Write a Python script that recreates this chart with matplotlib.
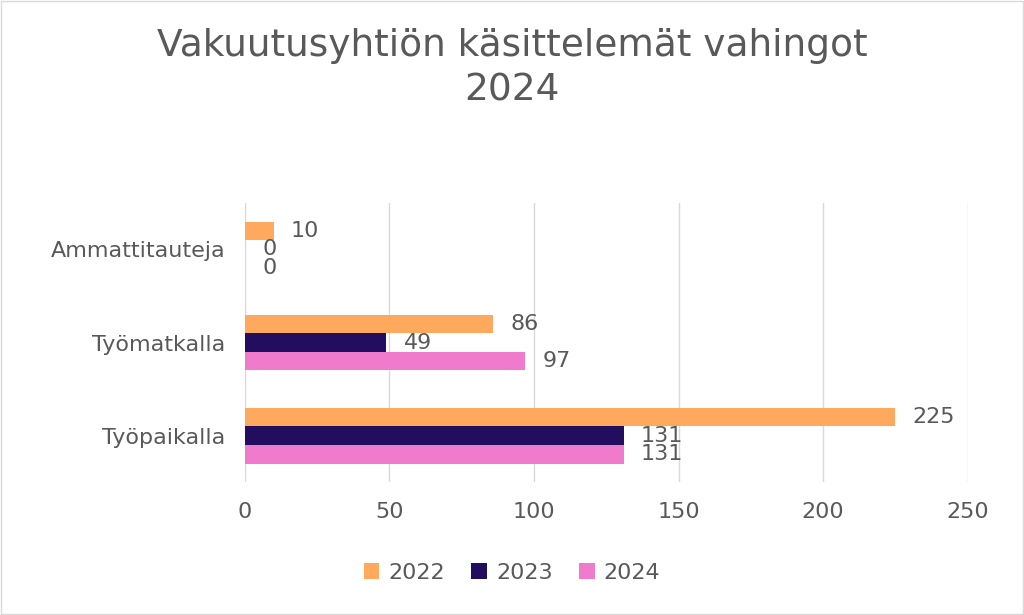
import matplotlib.pyplot as plt
import numpy as np

categories = ["Ammattitauteja", "Työmatkalla", "Työpaikalla"]
years = ["2022", "2023", "2024"]
values_2022 = [10, 86, 225]
values_2023 = [0, 49, 131]
values_2024 = [0, 97, 131]
series = [values_2022, values_2023, values_2024]
colors = ["#FFA95F", "#220D5E", "#F07ACB"]
text_color = "#595959"

fig = plt.figure(figsize=(10.24, 6.15), dpi=100)
fig.patches.append(plt.Rectangle((0.001, 0.001), 0.998, 0.998, transform=fig.transFigure,
                                 fill=False, edgecolor="#D9D9D9", linewidth=1))
ax = fig.add_axes([0.239, 0.216, 0.706, 0.454])

y = np.arange(len(categories))
h = 0.2
for i, (vals, col, yr) in enumerate(zip(series, colors, years)):
    pos = y + (i - 1) * h
    ax.barh(pos, vals, height=h, color=col, label=yr, zorder=3)
    for p, v in zip(pos, vals):
        ax.text(v + 6, p, str(v), va="center", ha="left", fontsize=16, color=text_color)

ax.set_xlim(0, 250)
ax.set_ylim(2.5, -0.5)
ax.set_xticks(range(0, 251, 50))
ax.set_yticks(y)
ax.set_yticklabels(categories)
ax.tick_params(length=0, labelsize=16, labelcolor=text_color, pad=14)
ax.grid(axis="x", color="#D9D9D9", linewidth=1, zorder=0)
for s in ax.spines.values():
    s.set_visible(False)

fig.suptitle("Vakuutusyhtiön käsittelemät vahingot\n2024", y=0.955, fontsize=27,
             color=text_color, linespacing=1.3)
fig.legend(loc="lower center", ncol=3, bbox_to_anchor=(0.5, 0.02), frameon=False,
           fontsize=16, labelcolor=text_color, handlelength=0.7, handleheight=0.7,
           columnspacing=1.2, handletextpad=0.4)

fig.savefig("out.png", dpi=100)
